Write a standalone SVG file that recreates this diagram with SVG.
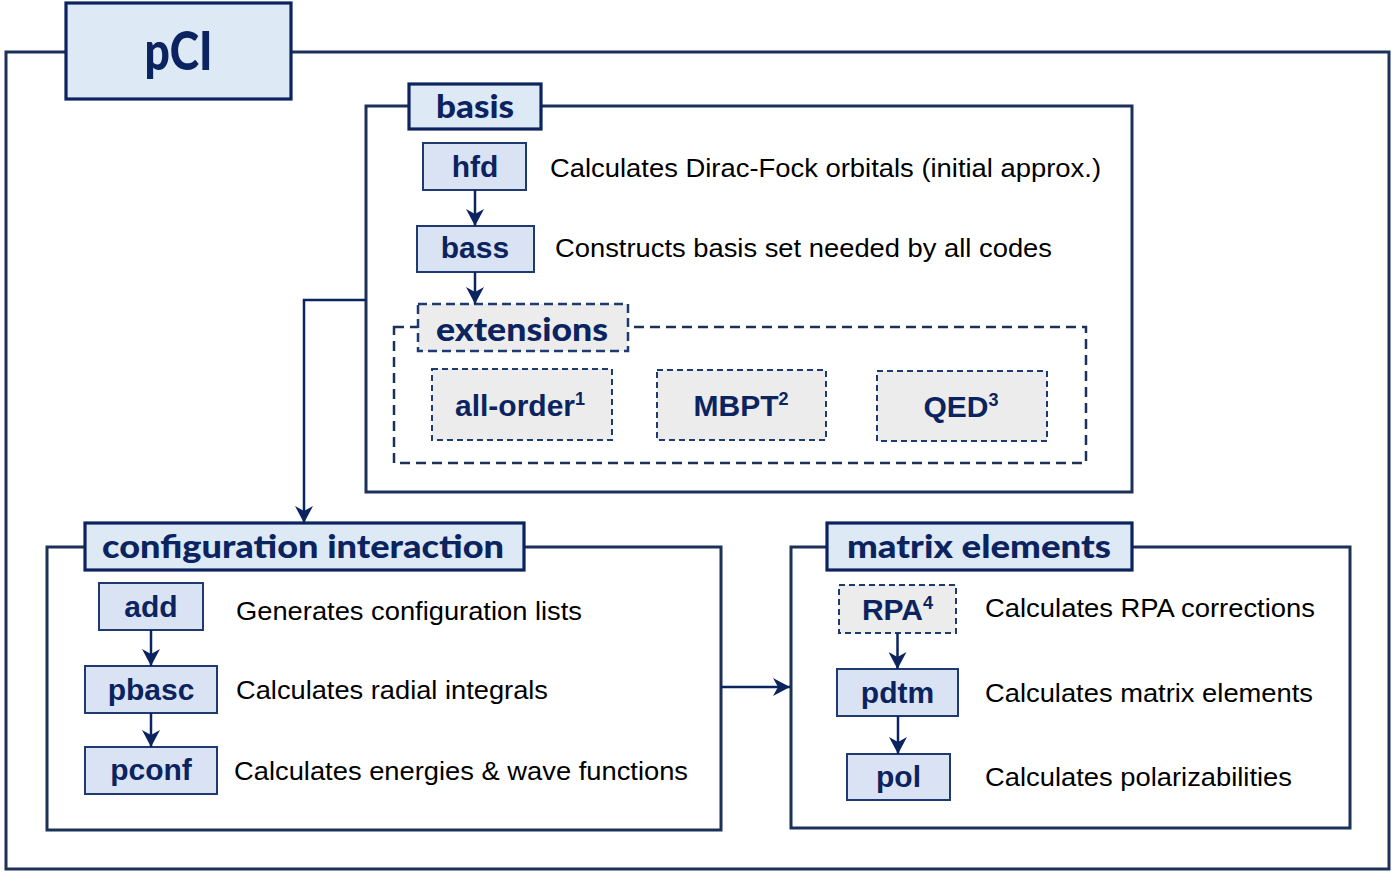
<svg xmlns="http://www.w3.org/2000/svg" width="1400" height="872" viewBox="0 0 1400 872">
<style>
.frame{fill:none;stroke:#1c3158;stroke-width:3}
.title{fill:#dee9f6;stroke:#0b2460;stroke-width:3.2}
.node{fill:#dae3f3;stroke:#1f3a70;stroke-width:2}
.dnode{fill:#ececec;stroke:#1f3a70;stroke-width:2;stroke-dasharray:6 4}
.dframe{fill:none;stroke:#1c3158;stroke-width:2.5;stroke-dasharray:10 6}
.ttl{font-family:Lato,"Open Sans",sans-serif;font-weight:900;fill:#0b2460;text-anchor:middle}
.lbl{font-family:"Liberation Sans",Arial,sans-serif;font-weight:bold;font-size:30px;fill:#0b2460;text-anchor:middle}
.desc{font-family:"Liberation Sans",Arial,sans-serif;font-size:26px;fill:#000}
.sup{font-size:18px}
.conn{fill:none;stroke:#0b2460;stroke-width:2.5}
</style>
<defs>
<marker id="ah" markerUnits="userSpaceOnUse" markerWidth="20" markerHeight="18" refX="17" refY="9" orient="auto">
<path d="M0,0 L17,9 L0,18 L5,9 z" fill="#0b2460"/>
</marker>
</defs>
<rect class="frame" x="6" y="52" width="1383" height="817"/>
<g id="pCI">
<rect class="title" x="66" y="3" width="225" height="96"/>
<text class="ttl" x="178.5" y="70" font-size="54" textLength="68" lengthAdjust="spacingAndGlyphs">pCI</text>
</g>
<g id="basis">
<rect class="frame" x="366" y="106" width="766" height="386"/>
<rect class="title" x="409" y="84" width="132" height="45"/>
<text class="ttl" x="475" y="118" font-size="33" textLength="78" lengthAdjust="spacingAndGlyphs">basis</text>
</g>
<g id="hfd">
<rect class="node" x="423" y="143" width="103" height="47"/>
<text class="lbl" x="475" y="177">hfd</text>
<text class="desc" x="550" y="177" textLength="551" lengthAdjust="spacingAndGlyphs">Calculates Dirac-Fock orbitals (initial approx.)</text>
</g>
<g id="bass">
<rect class="node" x="417" y="226" width="117" height="46"/>
<text class="lbl" x="475" y="258">bass</text>
<text class="desc" x="555" y="257" textLength="497" lengthAdjust="spacingAndGlyphs">Constructs basis set needed by all codes</text>
</g>
<g id="extensions">
<rect class="dframe" x="394" y="327" width="692" height="136"/>
<rect class="dnode" x="418" y="304" width="210" height="47" style="stroke-width:2.5;stroke-dasharray:9 5"/>
<text class="ttl" x="522" y="341" font-size="33" textLength="172" lengthAdjust="spacingAndGlyphs">extensions</text>
</g>
<g id="all-order">
<rect class="dnode" x="432" y="369" width="180" height="71"/>
<text class="lbl" x="520" y="416">all-order<tspan class="sup" dy="-11">1</tspan></text>
</g>
<g id="MBPT">
<rect class="dnode" x="657" y="370" width="169" height="70"/>
<text class="lbl" x="741" y="416">MBPT<tspan class="sup" dy="-11">2</tspan></text>
</g>
<g id="QED">
<rect class="dnode" x="877" y="371" width="170" height="70"/>
<text class="lbl" x="961" y="417">QED<tspan class="sup" dy="-11">3</tspan></text>
</g>
<g id="configuration-interaction">
<rect class="frame" x="47" y="547" width="674" height="283"/>
<rect class="title" x="85" y="523" width="439" height="47"/>
<text class="ttl" x="303" y="558" font-size="33" textLength="402" lengthAdjust="spacingAndGlyphs">configuration interaction</text>
</g>
<g id="add">
<rect class="node" x="99" y="583" width="104" height="47"/>
<text class="lbl" x="151" y="617">add</text>
<text class="desc" x="236" y="620" textLength="346" lengthAdjust="spacingAndGlyphs">Generates configuration lists</text>
</g>
<g id="pbasc">
<rect class="node" x="85" y="666" width="132" height="47"/>
<text class="lbl" x="151" y="700">pbasc</text>
<text class="desc" x="236" y="699" textLength="312" lengthAdjust="spacingAndGlyphs">Calculates radial integrals</text>
</g>
<g id="pconf">
<rect class="node" x="85" y="747" width="132" height="47"/>
<text class="lbl" x="151" y="780">pconf</text>
<text class="desc" x="234" y="780" textLength="454" lengthAdjust="spacingAndGlyphs">Calculates energies &amp; wave functions</text>
</g>
<g id="matrix-elements">
<rect class="frame" x="791" y="547" width="559" height="281"/>
<rect class="title" x="827" y="523" width="305" height="47"/>
<text class="ttl" x="979" y="558" font-size="33" textLength="264" lengthAdjust="spacingAndGlyphs">matrix elements</text>
</g>
<g id="RPA">
<rect class="dnode" x="839" y="585" width="117" height="48"/>
<text class="lbl" x="897.5" y="620">RPA<tspan class="sup" dy="-11">4</tspan></text>
<text class="desc" x="985" y="617" textLength="330" lengthAdjust="spacingAndGlyphs">Calculates RPA corrections</text>
</g>
<g id="pdtm">
<rect class="node" x="837" y="669" width="121" height="47"/>
<text class="lbl" x="897.5" y="703">pdtm</text>
<text class="desc" x="985" y="702" textLength="328" lengthAdjust="spacingAndGlyphs">Calculates matrix elements</text>
</g>
<g id="pol">
<rect class="node" x="847" y="754" width="103" height="46"/>
<text class="lbl" x="898.5" y="787">pol</text>
<text class="desc" x="985" y="786" textLength="307" lengthAdjust="spacingAndGlyphs">Calculates polarizabilities</text>
</g>
<g id="connectors">
<path class="conn" d="M475,190 V226" marker-end="url(#ah)"/>
<path class="conn" d="M475,272 V304" marker-end="url(#ah)"/>
<path class="conn" d="M366,300 H304 V523" marker-end="url(#ah)"/>
<path class="conn" d="M151,630 V666" marker-end="url(#ah)"/>
<path class="conn" d="M151,713 V747" marker-end="url(#ah)"/>
<path class="conn" d="M721,687 H790" marker-end="url(#ah)"/>
<path class="conn" d="M897.5,633 V669" marker-end="url(#ah)"/>
<path class="conn" d="M898,716 V754" marker-end="url(#ah)"/>
</g>
</svg>
